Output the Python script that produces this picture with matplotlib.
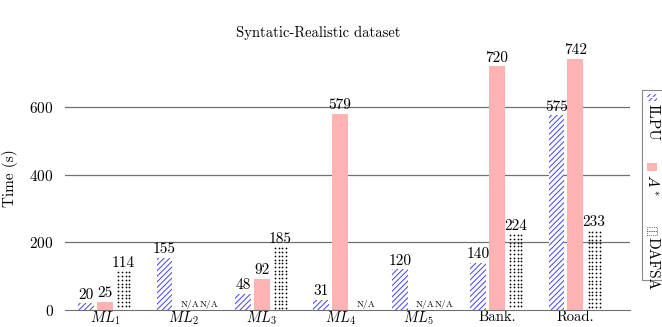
import matplotlib
matplotlib.use('Agg')
import matplotlib.pyplot as plt
from matplotlib.patches import Rectangle
import numpy as np

plt.rcParams['font.family'] = ['cmr10', 'DejaVu Serif']
plt.rcParams['mathtext.fontset'] = 'cm'
plt.rcParams['axes.formatter.use_mathtext'] = True
plt.rcParams['hatch.linewidth'] = 0.7

categories = [r'$ML_1$', r'$ML_2$', r'$ML_3$', r'$ML_4$', r'$ML_5$', 'Bank.', 'Road.']
ilpu = [20, 155, 48, 31, 120, 140, 575]
astar = [25, None, 92, 579, None, 720, 742]
dafsa = [114, None, 185, None, None, 224, 233]
series_names = ['ILPU', r'$A^*$', 'DAFSA']

fig = plt.figure(figsize=(6.62, 3.27), dpi=100)
ax = fig.add_axes([0.098, 0.052, 0.854, 0.807])

x = np.arange(len(categories))
w = 0.2
off = 0.24
pink = '#ffb3b3'
blue = '#4040ff'

def dots(xc, h):
    # dotted fill imitating a fine dot pattern
    cols = np.linspace(xc - w / 2 + 0.03, xc + w / 2 - 0.03, 4)
    rows = np.arange(h - 3, 2, -11.0)
    gx, gy = np.meshgrid(cols, rows)
    ax.scatter(gx.ravel(), gy.ravel(), s=1.6, color='black', linewidths=0, zorder=2)

def draw(vals, shift, style):
    for i, v in enumerate(vals):
        xi = x[i] + shift
        if v is None:
            ax.text(xi - 0.03, 3, 'N/A', ha='left', va='bottom', fontsize=6.8)
            continue
        if style == 'ilpu':
            ax.bar(xi, v, w, facecolor='white', edgecolor=blue, hatch='//////', linewidth=0)
        elif style == 'astar':
            ax.bar(xi, v, w, color=pink, linewidth=0)
        else:
            dots(xi, v)
        ax.text(xi, v + 5, str(v), ha='center', va='bottom', fontsize=11)

draw(ilpu, -off, 'ilpu')
draw(astar, 0, 'astar')
draw(dafsa, off, 'dafsa')

ax.set_xlim(-0.51, 6.7)
ax.set_ylim(0, 780)
ax.set_yticks([0, 200, 400, 600])
ax.set_xticks(x)
ax.set_xticklabels(categories, fontsize=10.5)
ax.tick_params(axis='both', length=0, labelsize=11)
ax.tick_params(axis='x', pad=0, labelsize=10.5)
ax.tick_params(axis='y', pad=8)
for yv in [200, 400, 600]:
    ax.axhline(yv, color='#707070', linewidth=0.9, zorder=0)
for s in ['top', 'right', 'left']:
    ax.spines[s].set_visible(False)
ax.spines['bottom'].set_color('#707070')
ax.set_ylabel('Time (s)', fontsize=11, labelpad=8)
fig.text(0.481, 0.9, 'Syntatic-Realistic dataset', ha='center', va='center', fontsize=10.5)

# vertical legend on the right
fig.patches.append(Rectangle((0.970, 0.143), 0.06, 0.582, transform=fig.transFigure,
                             facecolor='white', edgecolor='#888888', linewidth=0.8))
entries = [(0.690, 'ilpu'), (0.477, 'astar'), (0.282, 'dafsa')]
for (ytop, style), name in zip(entries, series_names):
    for k in range(2):
        yk = ytop + 0.013 * (1 - k)
        if style == 'ilpu':
            kw = dict(facecolor='white', edgecolor=blue, hatch='//////', linewidth=0)
        elif style == 'astar':
            kw = dict(facecolor=pink, edgecolor='none')
        else:
            kw = dict(facecolor='white', edgecolor='black', linewidth=0.5, linestyle=':')
        fig.patches.append(Rectangle((0.978, yk), 0.014, 0.011, transform=fig.transFigure, **kw))
    fig.text(0.986, ytop - 0.008, name, rotation=-90, ha='center', va='top', fontsize=11)

fig.savefig('out.png', dpi=100)
